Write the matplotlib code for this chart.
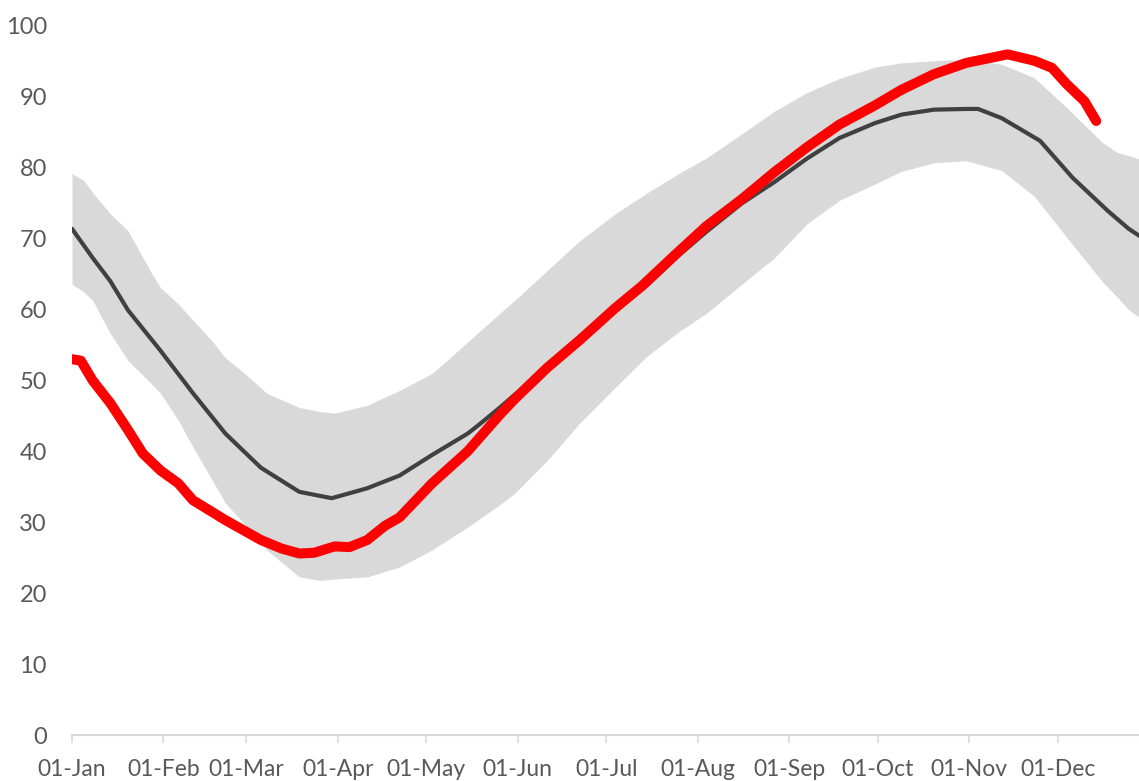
import matplotlib
matplotlib.use("Agg")
import matplotlib.pyplot as plt

# day of year (0 = 01-Jan) for the shaded range
band_days = [0, 4, 7, 13, 19, 27, 30, 36, 41, 47, 52, 59, 66, 77, 84, 89, 100, 111,
             122, 134, 145, 150, 161, 172, 184, 195, 206, 215, 227, 238, 249, 260,
             272, 281, 292, 303, 315, 326, 337, 349, 354, 358, 362]
band_hi = [79.2, 78.2, 76.5, 73.5, 71.1, 65.1, 63.1, 60.8, 58.5, 55.8, 53.2, 50.8, 48.2,
           46.2, 45.6, 45.4, 46.5, 48.6, 51.0, 55.4, 59.5, 61.3, 65.5, 69.7, 73.5, 76.5,
           79.3, 81.4, 84.8, 88.0, 90.6, 92.6, 94.2, 94.8, 95.1, 95.3, 94.6, 92.7, 88.5,
           83.6, 82.2, 81.7, 81.2]
band_lo = [63.6, 62.5, 61.3, 56.6, 52.8, 49.5, 48.2, 44.4, 40.6, 36.3, 32.7, 29.5, 26.1,
           22.3, 21.8, 22.0, 22.3, 23.7, 26.1, 29.3, 32.5, 34.1, 38.7, 44.0, 49.0, 53.5,
           57.0, 59.5, 63.6, 67.3, 72.1, 75.4, 77.7, 79.5, 80.7, 81.0, 79.6, 76.0, 70.2,
           64.0, 61.8, 60.0, 58.8]

# average
mean_days = [0, 7, 13, 19, 30, 41, 52, 64, 77, 88, 100, 111, 122, 134, 138, 145, 150,
             161, 172, 184, 195, 206, 215, 227, 238, 249, 260, 272, 281, 292, 303, 307,
             315, 328, 339, 351, 358, 362]
mean_vals = [71.4, 67.3, 64.0, 59.9, 54.2, 48.2, 42.5, 37.7, 34.3, 33.4, 34.8, 36.6,
             39.5, 42.5, 43.8, 46.2, 48.0, 51.6, 55.5, 59.8, 63.5, 67.8, 71.0, 75.0,
             78.0, 81.3, 84.2, 86.3, 87.5, 88.2, 88.3, 88.3, 87.0, 83.8, 78.6, 73.9,
             71.4, 70.3]

# current year
cur_days = [0, 3, 7, 13, 19, 24, 30, 36, 41, 52, 64, 71, 77, 82, 89, 94, 100, 106, 111,
            122, 134, 145, 150, 161, 172, 184, 193, 204, 215, 227, 238, 249, 260, 272,
            281, 292, 303, 317, 326, 332, 337, 343, 347]
cur_vals = [53.0, 52.8, 50.0, 46.8, 43.0, 39.7, 37.3, 35.5, 33.1, 30.3, 27.5, 26.3,
            25.6, 25.7, 26.6, 26.5, 27.5, 29.5, 30.7, 35.5, 40.0, 45.2, 47.4, 51.8,
            55.7, 60.2, 63.3, 67.6, 71.8, 75.6, 79.4, 82.9, 86.1, 88.8, 91.0, 93.2,
            94.8, 96.0, 95.1, 94.1, 91.8, 89.4, 86.6]

month_starts = [0, 31, 59, 90, 120, 151, 181, 212, 243, 273, 304, 334]
month_labels = ["01-Jan", "01-Feb", "01-Mar", "01-Apr", "01-May", "01-Jun",
                "01-Jul", "01-Aug", "01-Sep", "01-Oct", "01-Nov", "01-Dec"]

plt.rcParams['font.family'] = ['Lato', 'DejaVu Sans']

fig = plt.figure(figsize=(11.39, 7.81), dpi=100)
ax = fig.add_axes([72 / 1139, 1 - 735 / 781, 1 - 72 / 1139, (735 - 26) / 781])

ax.fill_between(band_days, band_lo, band_hi, color="#d9d9d9", lw=0)
ax.plot(mean_days, mean_vals, color="#404040", lw=3.0, solid_capstyle="round")
ax.plot(cur_days, cur_vals, color="#ff0000", lw=7.2, solid_capstyle="round",
        solid_joinstyle="round")

ax.set_xlim(0, 361.5)
ax.set_ylim(0, 100)
ax.set_yticks(range(0, 101, 10))
ax.set_xticks(month_starts)
ax.set_xticklabels(month_labels)

for s in ["top", "right", "left"]:
    ax.spines[s].set_visible(False)
ax.spines["bottom"].set_color("#d9d9d9")
ax.spines["bottom"].set_linewidth(1.5)
ax.spines["bottom"].set_clip_on(False)

ax.tick_params(axis="y", length=0, pad=18, labelsize=17, labelcolor="#595959")
ax.tick_params(axis="x", length=6, width=1.2, color="#d9d9d9", pad=11,
               labelsize=16.5, labelcolor="#595959")

fig.savefig("out.png", dpi=100)
